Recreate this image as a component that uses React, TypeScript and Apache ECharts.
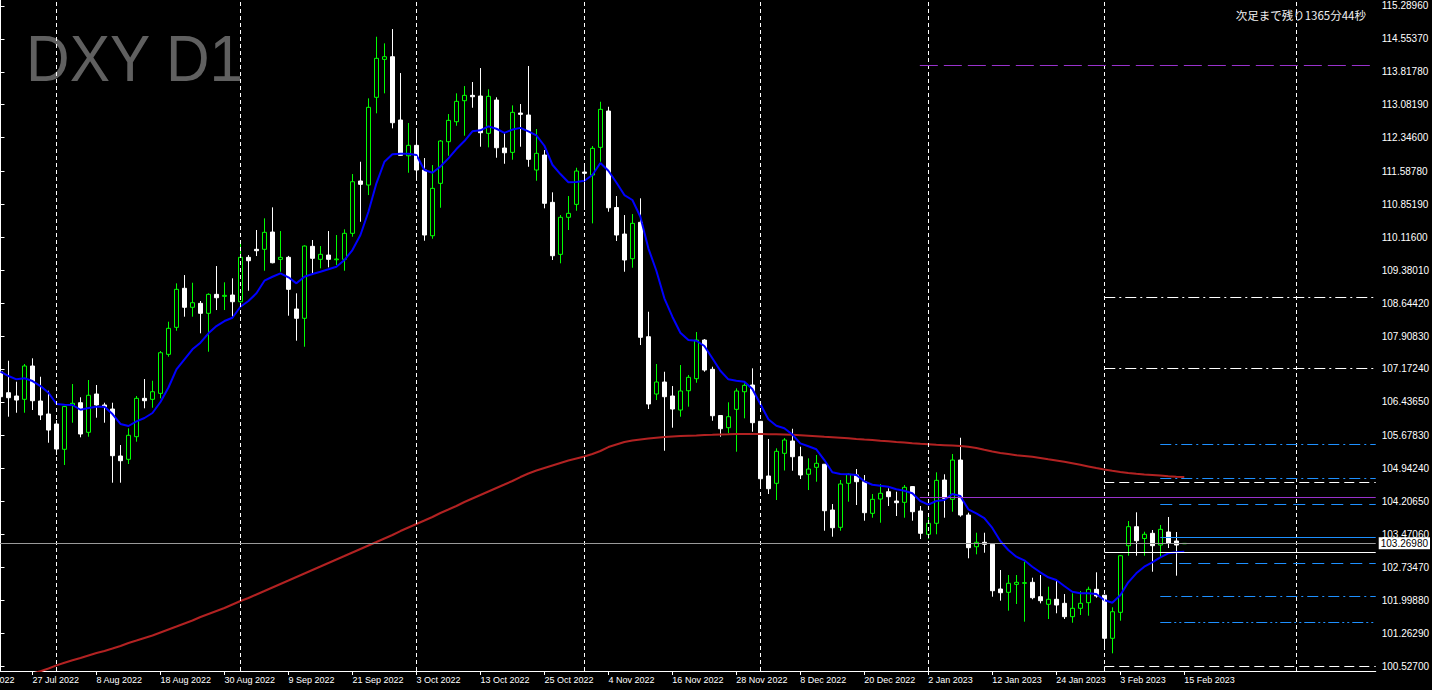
import React, { useEffect, useRef } from "react";
import * as echarts from "echarts";

// ---------- data ----------
// one entry per daily bar, first bar = 21 Jul 2022, last bar = 15 Feb 2023
const OPEN = [
  107.109, 106.64, 106.566, 106.492, 107.237, 106.454, 106.163, 105.94, 105.374, 106.358,
  106.416, 105.754, 106.611, 106.365, 106.275, 105.224, 105.15, 105.656, 106.514, 106.492,
  106.626, 107.498, 108.102, 108.975, 108.55, 108.639, 108.416, 108.84, 108.796, 108.825,
  108.675, 109.668, 109.847, 109.847, 110.234, 109.623, 109.668, 108.512, 108.304, 109.914,
  109.623, 109.719, 109.614, 109.623, 110.205, 111.375, 111.285, 113.247, 114.096, 114.155,
  112.739, 111.94, 112.173, 111.621, 110.151, 111.323, 112.254, 112.701, 113.171, 113.291,
  113.276, 112.441, 113.186, 112.113, 112.016, 112.895, 112.851, 111.621, 111.956, 110.898,
  109.735, 110.563, 110.853, 111.576, 111.509, 112.128, 112.94, 110.782, 110.189, 109.637,
  110.451, 107.892, 106.611, 106.879, 106.566, 106.253, 106.684, 106.953, 107.818, 107.163,
  106.13, 105.857, 106.268, 106.662, 106.812, 106.0, 104.777, 104.613, 105.284, 105.559,
  105.208, 104.815, 104.971, 105.04, 104.016, 103.629, 104.613, 104.799, 104.649, 103.942,
  104.262, 104.425, 104.217, 104.188, 104.54, 103.994, 103.473, 103.719, 104.687, 104.255,
  105.134, 103.904, 103.195, 103.294, 103.25, 102.249, 102.175, 102.354, 102.377, 102.399,
  102.077, 101.907, 102.019, 101.929, 101.63, 101.818, 101.943, 102.242, 102.11, 101.147,
  101.728, 103.218, 103.643, 103.379, 103.495, 103.233, 103.524, 103.323, 103.262,
];
const HIGH = [
  107.333, 107.355, 106.886, 107.282, 107.409, 106.997, 106.684, 106.029, 106.342, 106.834,
  106.537, 106.924, 106.812, 106.416, 106.416, 105.47, 105.843, 106.566, 106.946, 106.908,
  107.572, 108.228, 109.086, 109.272, 109.1, 108.691, 108.863, 109.473, 109.109, 109.198,
  109.981, 109.719, 110.279, 110.54, 110.786, 110.256, 109.7, 108.863, 109.936, 110.055,
  109.921, 110.256, 110.167, 110.294, 111.531, 111.806, 113.224, 114.602, 114.454, 114.774,
  113.79, 112.672, 112.56, 111.889, 111.732, 112.292, 112.873, 113.336, 113.499, 113.589,
  113.902, 113.426, 113.247, 112.441, 113.067, 113.097, 113.947, 112.538, 112.068, 111.122,
  110.614, 111.039, 111.672, 111.777, 112.157, 113.148, 113.036, 111.039, 110.614, 110.636,
  110.988, 108.451, 107.282, 107.109, 106.789, 107.259, 107.036, 107.997, 107.84, 107.221,
  106.141, 106.425, 106.738, 106.85, 107.185, 106.007, 105.604, 105.396, 105.626, 105.834,
  105.432, 105.172, 105.246, 105.045, 104.15, 104.687, 104.837, 104.933, 104.799, 104.374,
  104.598, 104.501, 104.425, 104.575, 104.553, 104.106, 103.853, 104.859, 104.815, 105.269,
  105.633, 103.956, 103.508, 103.508, 103.256, 102.674, 102.562, 102.562, 102.86, 102.502,
  102.562, 102.301, 102.45, 102.137, 102.153, 102.204, 102.301, 102.623, 102.115, 101.84,
  103.01, 103.77, 103.965, 103.531, 103.569, 103.681, 103.86, 103.524, 103.274,
];
const LOW = [
  106.403, 106.103, 106.192, 106.192, 106.253, 106.029, 105.521, 105.246, 105.023, 105.969,
  105.642, 105.656, 106.081, 105.969, 104.627, 104.627, 105.045, 105.544, 106.291, 106.304,
  106.514, 107.445, 108.026, 108.34, 108.34, 107.968, 107.557, 108.489, 108.489, 108.34,
  108.653, 108.921, 109.697, 109.368, 109.534, 109.346, 108.362, 107.803, 107.668, 109.272,
  109.422, 109.444, 109.496, 109.368, 110.129, 110.464, 111.061, 112.889, 113.336, 112.553,
  111.94, 111.56, 111.435, 110.039, 110.084, 110.777, 111.94, 112.611, 112.388, 113.014,
  112.142, 112.128, 111.896, 111.761, 111.851, 112.142, 111.694, 111.381, 110.764, 109.608,
  109.534, 110.279, 110.71, 110.726, 110.428, 111.806, 110.688, 110.033, 109.346, 109.435,
  107.706, 106.275, 106.476, 105.342, 105.857, 106.103, 106.327, 106.863, 107.109, 106.013,
  105.656, 105.732, 105.32, 106.067, 105.767, 104.575, 104.374, 104.24, 104.9, 104.895,
  104.709, 104.463, 104.649, 103.553, 103.419, 103.553, 104.202, 104.128, 103.777, 103.844,
  103.732, 104.106, 103.882, 103.844, 103.777, 103.367, 103.367, 103.473, 103.844, 103.978,
  103.866, 102.936, 103.025, 103.061, 102.077, 101.988, 101.764, 101.914, 101.518, 102.019,
  101.929, 101.578, 101.706, 101.578, 101.495, 101.668, 101.652, 102.055, 100.974, 100.811,
  101.54, 102.994, 102.994, 102.994, 102.636, 102.965, 103.166, 102.547, 103.258,
];
const CLOSE = [
  106.55, 106.528, 106.476, 107.237, 106.461, 106.141, 105.805, 105.38, 106.33, 106.403,
  105.716, 106.582, 106.365, 106.327, 105.231, 105.119, 105.687, 106.514, 106.461, 106.662,
  107.534, 108.08, 108.952, 108.55, 108.653, 108.416, 108.84, 108.764, 108.818, 108.675,
  109.668, 109.592, 109.816, 110.227, 109.547, 109.668, 108.952, 108.304, 109.92, 109.646,
  109.735, 109.623, 109.63, 110.205, 111.359, 111.301, 113.023, 114.119, 114.155, 112.679,
  111.949, 112.173, 111.621, 110.167, 111.211, 112.269, 112.732, 113.157, 113.291, 113.26,
  112.455, 113.269, 112.119, 112.007, 112.911, 112.866, 111.86, 111.994, 110.876, 109.704,
  110.563, 110.652, 111.598, 111.547, 112.106, 112.978, 110.777, 110.167, 109.608, 110.428,
  107.879, 106.387, 106.879, 106.55, 106.275, 106.678, 106.984, 107.818, 107.147, 106.125,
  105.834, 106.103, 106.678, 106.805, 105.969, 104.716, 104.493, 105.329, 105.582, 105.208,
  104.799, 104.933, 105.061, 104.0, 103.62, 104.598, 104.815, 104.649, 103.956, 104.255,
  104.39, 104.314, 104.179, 104.524, 103.978, 103.495, 103.719, 104.68, 104.278, 105.134,
  103.904, 103.173, 103.294, 103.249, 102.211, 102.166, 102.377, 102.399, 102.39, 102.055,
  101.988, 102.019, 101.891, 101.63, 101.818, 101.929, 102.242, 102.093, 101.147, 101.741,
  102.994, 103.643, 103.329, 103.473, 103.218, 103.584, 103.267, 103.233, 103.2698,
];
// blue moving average, read bar by bar
const MA_FAST = [
  107.109, 107.013, 106.939, 106.962, 106.901, 106.789, 106.64, 106.387, 106.371, 106.365,
  106.259, 106.297, 106.327, 106.327, 106.163, 105.94, 105.895, 106.0, 106.074, 106.186,
  106.432, 106.756, 107.163, 107.387, 107.61, 107.758, 107.968, 108.131, 108.243, 108.317,
  108.563, 108.691, 108.863, 109.145, 109.234, 109.31, 109.221, 109.086, 109.234, 109.294,
  109.346, 109.4, 109.458, 109.608, 109.831, 110.167, 110.688, 111.323, 111.806, 111.972,
  111.985, 111.985, 111.956, 111.621, 111.56, 111.699, 111.882, 112.09, 112.269, 112.486,
  112.508, 112.598, 112.544, 112.453, 112.526, 112.564, 112.486, 112.397, 112.164, 111.739,
  111.531, 111.346, 111.352, 111.381, 111.509, 111.777, 111.605, 111.341, 111.061, 110.95,
  110.576, 109.869, 109.368, 108.751, 108.34, 107.982, 107.818, 107.803, 107.684, 107.409,
  107.132, 106.939, 106.908, 106.886, 106.722, 106.387, 106.045, 105.902, 105.846, 105.705,
  105.508, 105.441, 105.374, 105.134, 104.859, 104.821, 104.815, 104.799, 104.658, 104.582,
  104.56, 104.537, 104.479, 104.448, 104.39, 104.217, 104.135, 104.217, 104.24, 104.374,
  104.329, 104.032, 103.942, 103.837, 103.614, 103.323, 103.121, 102.972, 102.891, 102.748,
  102.623, 102.511, 102.45, 102.316, 102.189, 102.153, 102.153, 102.137, 102.003, 101.943,
  102.108, 102.399, 102.6, 102.748, 102.846, 102.958, 103.048, 103.07, 103.083,
];
// red moving average, read bar by bar (first bars lie below the visible range)
const MA_SLOW = [
  100.1, 100.17, 100.24, 100.3, 100.36, 100.41, 100.47, 100.54, 100.6, 100.655,
  100.706, 100.762, 100.818, 100.863, 100.918, 100.974, 101.042, 101.097, 101.153, 101.209,
  101.276, 101.343, 101.41, 101.478, 101.545, 101.623, 101.69, 101.757, 101.824, 101.903,
  101.981, 102.048, 102.126, 102.204, 102.283, 102.361, 102.439, 102.518, 102.596, 102.674,
  102.752, 102.831, 102.909, 102.987, 103.066, 103.144, 103.222, 103.3, 103.379, 103.457,
  103.546, 103.625, 103.703, 103.781, 103.86, 103.949, 104.027, 104.106, 104.195, 104.273,
  104.351, 104.43, 104.508, 104.586, 104.665, 104.754, 104.832, 104.899, 104.955, 105.011,
  105.067, 105.123, 105.168, 105.213, 105.269, 105.336, 105.425, 105.481, 105.537, 105.571,
  105.593, 105.615, 105.633, 105.649, 105.66, 105.671, 105.678, 105.682, 105.694, 105.698,
  105.705, 105.709, 105.716, 105.716, 105.716, 105.716, 105.712, 105.709, 105.705, 105.698,
  105.689, 105.678, 105.667, 105.653, 105.642, 105.631, 105.62, 105.606, 105.593, 105.582,
  105.566, 105.553, 105.537, 105.524, 105.51, 105.497, 105.486, 105.475, 105.466, 105.457,
  105.448, 105.432, 105.403, 105.363, 105.325, 105.291, 105.269, 105.242, 105.224, 105.206,
  105.179, 105.15, 105.123, 105.096, 105.063, 105.027, 104.991, 104.955, 104.922, 104.893,
  104.866, 104.844, 104.826, 104.81, 104.799, 104.786, 104.772, 104.761, 104.754,
];

// time-axis tick labels (every 8th bar starting at bar 4)
const X_LABELS = [
  "27 Jul 2022", "8 Aug 2022", "18 Aug 2022", "30 Aug 2022", "9 Sep 2022", "21 Sep 2022",
  "3 Oct 2022", "13 Oct 2022", "25 Oct 2022", "4 Nov 2022", "16 Nov 2022", "28 Nov 2022",
  "8 Dec 2022", "20 Dec 2022", "2 Jan 2023", "12 Jan 2023", "24 Jan 2023", "3 Feb 2023",
  "15 Feb 2023",
];
const X_LABEL_START = 4;
const X_LABEL_STEP = 8;
const X_LABEL_BEFORE = "15 Jul 2022";

// price-axis tick labels
const Y_TICKS = [
  115.2896, 114.5537, 113.8178, 113.0819, 112.346, 111.5878, 110.8519, 110.116, 109.3801,
  108.6442, 107.9083, 107.1724, 106.4365, 105.6783, 104.9424, 104.2065, 103.4706, 102.7347,
  101.9988, 101.2629, 100.527,
];
const Y_MIN = 100.4152;
const Y_MAX = 115.4238;
const BID = 103.2698;

// vertical separators (bar index)
const SEPARATORS = [7, 30, 52, 73, 95, 116, 138, 162.06];

// horizontal levels (prices)
const WHITE_DASH = [104.642, 100.527];
const WHITE_SOLID = [103.077];
const WHITE_DASHDOT = [108.78, 107.192];
const BLUE_DASHDOT = [105.481, 104.732, 102.093];
const BLUE_DASH = [104.15, 102.831];
const BLUE_SOLID = [103.412];
const BLUE_DASHDOTDOT = [101.511];
const PURPLE_DASH = [113.969];
const PURPLE_SOLID = [104.307];
const WHITE_FROM = 138;
const BLUE_FROM = 145;
const PURPLE_FROM = 114.94;

// ---------- chart ----------
const X_MIN = -0.0625;
const X_MAX = 171.9375;

function seg(values: number[], from: number) {
  return values.map((v) => [{ coord: [from, v] }, { coord: [X_MAX, v] }]);
}

export default function App() {
  const ref = useRef<HTMLDivElement>(null);

  useEffect(() => {
    if (!ref.current) return;
    const chart = echarts.init(ref.current, undefined, { renderer: "svg" });
    const labelSlots = X_LABELS.map((_, k) => X_LABEL_START + k * X_LABEL_STEP);
    const candles = OPEN.map((o, i) => [i, o, CLOSE[i], LOW[i], HIGH[i]]);
    const font = "Liberation Sans";

    const levelSeries = (
      name: string,
      data: any[],
      color: string,
      type: any,
    ) => ({
      name,
      type: "line",
      data: [],
      silent: true,
      z: 4,
      markLine: {
        silent: true,
        symbol: ["none", "none"],
        animation: false,
        label: { show: false },
        lineStyle: { color, width: 1, type },
        emphasis: { disabled: true },
        data,
      },
    });

    const option: any = {
      backgroundColor: "#000000",
      animation: false,
      textStyle: { fontFamily: font },
      grid: { left: 0, right: 56, top: 0, bottom: 19, containLabel: false },
      xAxis: {
        type: "value",
        min: X_MIN,
        max: X_MAX,
        axisLine: { show: true, onZero: false, lineStyle: { color: "#ffffff", width: 1 } },
        axisTick: {
          show: true,
          customValues: labelSlots,
          length: 4,
          lineStyle: { color: "#ffffff" },
        },
        axisLabel: {
          customValues: labelSlots,
          formatter: (v: number) =>
            X_LABELS[Math.round((v - X_LABEL_START) / X_LABEL_STEP)] ?? "",
          color: "#ffffff",
          fontFamily: font,
          fontSize: 9,
          align: "left",
          margin: 4,
        },
        splitLine: { show: false },
      },
      yAxis: {
        type: "value",
        position: "right",
        min: Y_MIN,
        max: Y_MAX,
        axisLine: { show: true, lineStyle: { color: "#ffffff", width: 1 } },
        axisTick: {
          show: true,
          customValues: Y_TICKS,
          length: 4,
          lineStyle: { color: "#ffffff" },
        },
        axisLabel: {
          customValues: Y_TICKS,
          formatter: (v: number) => v.toFixed(5),
          color: "#ffffff",
          fontFamily: font,
          fontSize: 10,
          margin: 6,
        },
        splitLine: { show: false },
      },
      graphic: [
        {
          type: "text",
          x: 26,
          y: 58,
          scaleX: 0.93,
          silent: true,
          style: {
            text: "DXY D1",
            fill: "#606060",
            font: `65px "${font}"`,
            textAlign: "left",
            textVerticalAlign: "middle",
          },
        },
        {
          type: "text",
          x: 1366,
          y: 15,
          silent: true,
          style: {
            text: "次足まで残り1365分44秒",
            fill: "#f0f0f0",
            font: '11.5px "Noto Sans CJK JP"',
            textAlign: "right",
            textVerticalAlign: "middle",
          },
        },
        {
          type: "text",
          x: -32,
          y: 680,
          silent: true,
          style: {
            text: X_LABEL_BEFORE,
            fill: "#ffffff",
            font: `9px "${font}"`,
            textAlign: "left",
            textVerticalAlign: "middle",
          },
        },
      ],
      series: [
        {
          name: "separators",
          type: "line",
          data: [],
          silent: true,
          z: 1,
          markLine: {
            silent: true,
            symbol: ["none", "none"],
            label: { show: false },
            lineStyle: { color: "#ffffff", width: 1, type: [4, 3] },
            data: SEPARATORS.map((s) => ({ xAxis: s })),
          },
        },
        {
          name: "DXY",
          type: "candlestick",
          dimensions: ["bar", "open", "close", "low", "high"],
          encode: { x: 0, y: [1, 2, 3, 4] },
          data: candles,
          barWidth: 4,
          z: 2,
          silent: true,
          itemStyle: {
            color: "#000000",
            color0: "#ffffff",
            borderColor: "#00ff00",
            borderColor0: "#ffffff",
            borderWidth: 1,
          },
        },
        {
          name: "MA slow",
          type: "line",
          data: MA_SLOW.map((v, i) => [i, v]),
          symbol: "none",
          silent: true,
          z: 3,
          lineStyle: { color: "#b22222", width: 2 },
        },
        {
          name: "MA fast",
          type: "line",
          data: MA_FAST.map((v, i) => [i, v]),
          symbol: "none",
          silent: true,
          z: 3,
          lineStyle: { color: "#0000ff", width: 2 },
        },
        levelSeries("white dash", seg(WHITE_DASH, WHITE_FROM), "#ffffff", [10, 5]),
        levelSeries("white solid", seg(WHITE_SOLID, WHITE_FROM), "#ffffff", "solid"),
        levelSeries("white dashdot", seg(WHITE_DASHDOT, WHITE_FROM), "#ffffff", [11, 4, 2, 4]),
        levelSeries("blue dashdot", seg(BLUE_DASHDOT, BLUE_FROM), "#1e90ff", [11, 4, 2, 4]),
        levelSeries("blue dash", seg(BLUE_DASH, BLUE_FROM), "#1e90ff", [12, 7]),
        levelSeries("blue solid", seg(BLUE_SOLID, BLUE_FROM), "#1e90ff", "solid"),
        levelSeries("blue dashdotdot", seg(BLUE_DASHDOTDOT, BLUE_FROM), "#1e90ff", [11, 3, 2, 3, 2, 3]),
        levelSeries("purple dash", seg(PURPLE_DASH, PURPLE_FROM), "#9932cc", [18, 6]),
        levelSeries("purple solid", seg(PURPLE_SOLID, PURPLE_FROM), "#9932cc", "solid"),
        {
          name: "bid",
          type: "line",
          data: [],
          silent: true,
          z: 5,
          markLine: {
            silent: true,
            symbol: ["none", "none"],
            lineStyle: { color: "#9a9a9a", width: 1, type: "solid" },
            label: {
              show: true,
              position: "end",
              formatter: () => BID.toFixed(5),
              color: "#000000",
              backgroundColor: "#ffffff",
              fontFamily: font,
              fontSize: 10,
              padding: [1, 2, 1, 2],
              distance: 3,
            },
            data: [{ yAxis: BID }],
          },
        },
      ],
    };

    chart.setOption(option);
    return () => chart.dispose();
  }, []);

  return (
    <div
      ref={ref}
      style={{
        position: "absolute",
        left: 0,
        top: 0,
        width: 1432,
        height: 690,
        background: "#000000",
      }}
    />
  );
}
